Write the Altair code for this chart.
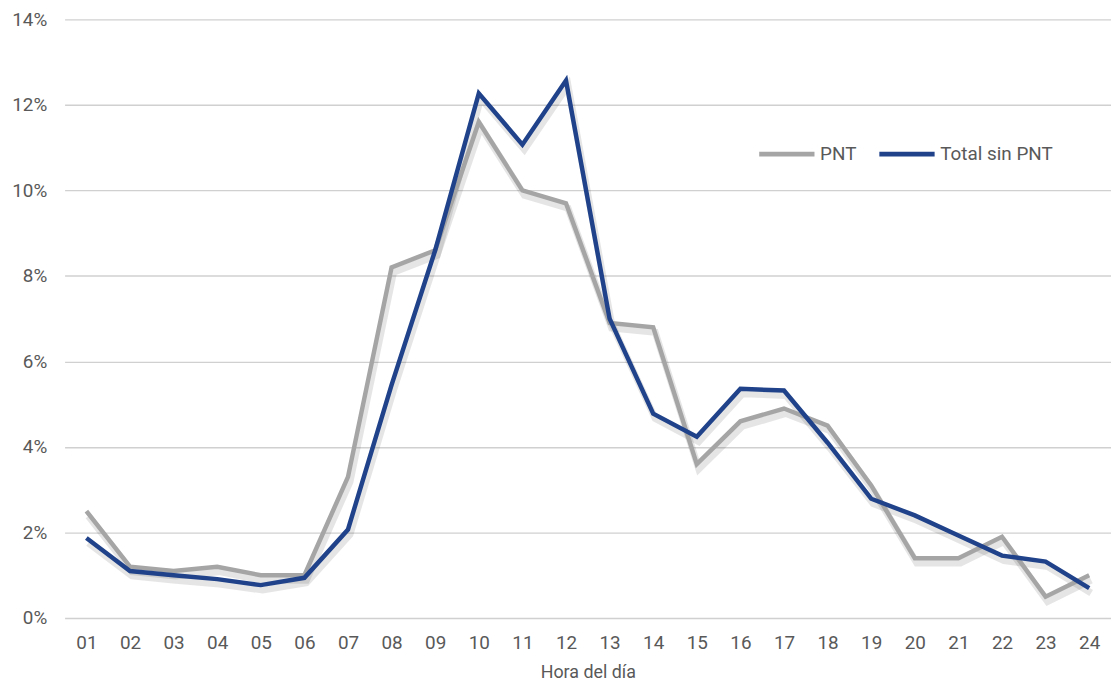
import pandas as pd
import altair as alt

horas = ['01', '02', '03', '04', '05', '06', '07', '08', '09', '10', '11', '12',
         '13', '14', '15', '16', '17', '18', '19', '20', '21', '22', '23', '24']
pnt = [2.5, 1.2, 1.1, 1.2, 1.0, 1.0, 3.3, 8.2, 8.6, 11.6, 10.0, 9.7,
       6.9, 6.8, 3.6, 4.6, 4.9, 4.5, 3.1, 1.4, 1.4, 1.9, 0.5, 1.0]
total_sin_pnt = [1.87, 1.1, 1.0, 0.91, 0.77, 0.94, 2.07, 5.45, 8.6, 12.27, 11.07, 12.57,
                 7.0, 4.78, 4.24, 5.36, 5.32, 4.1, 2.79, 2.4, 1.93, 1.46, 1.32, 0.7]
series = ['PNT', 'Total sin PNT']
colors = ['#a5a5a5', '#1f428a']

df = pd.concat([
    pd.DataFrame({'hora': horas, 'valor': [v / 100 for v in pnt], 'serie': 'PNT'}),
    pd.DataFrame({'hora': horas, 'valor': [v / 100 for v in total_sin_pnt], 'serie': 'Total sin PNT'}),
])

font = 'Roboto'

x = alt.X('hora:N', title='Hora del día',
          scale=alt.Scale(type='point', padding=0.5),
          axis=alt.Axis(labelAngle=0, domain=False, ticks=False, grid=False,
                        labelFontSize=19, labelColor='#595959', labelPadding=16,
                        titleFontSize=18, titleColor='#595959', titleFontWeight='normal',
                        titlePadding=11))
y = alt.Y('valor:Q', title=None,
          scale=alt.Scale(domain=[0, 0.14]),
          axis=alt.Axis(format='.0%', values=[0, 0.02, 0.04, 0.06, 0.08, 0.10, 0.12, 0.14],
                        domain=False, ticks=False, gridColor='#d0d0d0', gridWidth=1.3,
                        labelFontSize=19, labelColor='#595959', labelPadding=18))

# soft shadow under the lines
shadow = alt.Chart(df).mark_line(strokeWidth=7, opacity=0.10, xOffset=2, yOffset=5,
                                 color='#000000').encode(
    x=x, y=y, detail='serie:N'
)

lines = alt.Chart(df).mark_line(strokeWidth=4.5, strokeJoin='miter').encode(
    x=x,
    y=y,
    color=alt.Color('serie:N', scale=alt.Scale(domain=series, range=colors),
                    legend=alt.Legend(title=None, orient='none', legendX=697, legendY=105,
                                      direction='horizontal', symbolType='stroke',
                                      symbolSize=3100, symbolStrokeWidth=5,
                                      labelFontSize=19, labelColor='#595959',
                                      labelOffset=3, columnPadding=12))
)

chart = (shadow + lines).properties(
    width=1054, height=603,
    autosize=alt.AutoSizeParams(type='none'),
    padding={'left': 57, 'top': 9, 'right': 0, 'bottom': 63}
).configure(font=font).configure_view(stroke=None)

chart.save('out.html', embed_options={'renderer': 'svg', 'actions': False})
